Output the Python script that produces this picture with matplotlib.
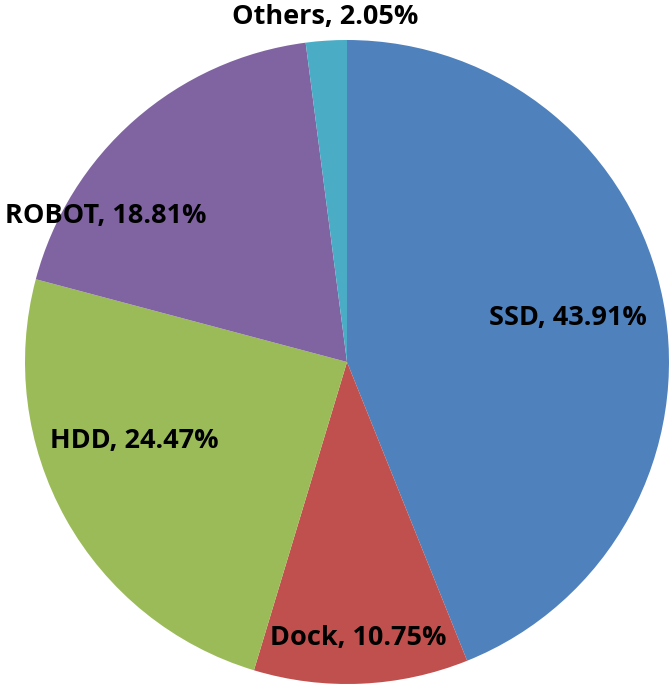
import matplotlib.pyplot as plt

# share of each category, %
categories = ['SSD', 'Dock', 'HDD', 'ROBOT', 'Others']
shares = [43.91, 10.75, 24.47, 18.81, 2.05]
colors = ['#4F81BD', '#C0504D', '#9BBB59', '#8064A2', '#4BACC6']

# label placement (pixel centre of each text, from the top-left)
label_pos = [(568, 318), (358, 638), (134, 441), (106, 216), (325, 17)]

W, H = 669, 687
fig = plt.figure(figsize=(W / 100, H / 100), dpi=100)
ax = fig.add_axes([0, 0, 1, 1])

ax.pie(shares, colors=colors, startangle=90, counterclock=False,
       center=(347, H - 362), radius=322, frame=True,
       wedgeprops=dict(linewidth=0))
ax.set_xlim(0, W)
ax.set_ylim(0, H)
ax.set_aspect('equal')
ax.axis('off')

for name, val, (px, py) in zip(categories, shares, label_pos):
    ax.text(px, H - py, f'{name}, {val:.2f}%', ha='center', va='center',
            fontsize=19.5, fontweight='bold', family=['Open Sans', 'DejaVu Sans'],
            color='black')

fig.savefig('out.png', dpi=100)
